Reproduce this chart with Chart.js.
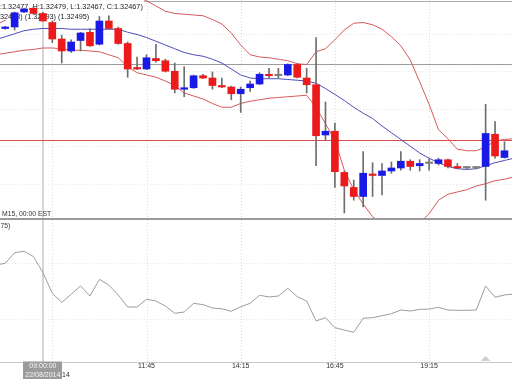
<!DOCTYPE html>
<html><head><meta charset="utf-8">
<script src="https://cdn.jsdelivr.net/npm/chart.js@4.4.1/dist/chart.umd.min.js"></script>
<style>
html,body{margin:0;padding:0;background:#fff;overflow:hidden;}
#wrap{position:relative;width:512px;height:379px;background:#fff;}
#c1{position:absolute;left:0;top:0;}
#c2{position:absolute;left:0;top:218px;}
</style></head><body>
<div id="wrap"><canvas id="c1" width="512" height="218"></canvas><canvas id="c2" width="512" height="161"></canvas></div>
<script>
// ---- data (EURUSD M15, 22/08/2014) ----
const times = ['07:45','08:00','08:15','08:30','08:45','09:00','09:15','09:30','09:45','10:00','10:15','10:30','10:45','11:00','11:15','11:30','11:45','12:00','12:15','12:30','12:45','13:00','13:15','13:30','13:45','14:00','14:15','14:30','14:45','15:00','15:15','15:30','15:45','16:00','16:15','16:30','16:45','17:00','17:15','17:30','17:45','18:00','18:15','18:30','18:45','19:00','19:15','19:30','19:45','20:00','20:15','20:30','20:45','21:00','21:15','21:30'];
const open = [null,
 1.32457,1.32459,1.32479,1.32484,1.32477,1.32465,1.32443,1.32427,1.32441,1.32452,
 1.32436,1.32467,1.32457,1.32437,1.32404,1.32403,1.32417,1.32414,1.32400,1.32376,
 1.32378,1.32394,1.32391,1.32380,1.32379,1.32370,1.32378,1.32383,1.32396,1.32394,
 1.32395,1.32409,1.32391,1.32382,1.32315,1.32320,1.32265,1.32245,1.32233,1.32263,
 1.32261,1.32267,1.32271,1.32280,1.32274,1.32277,1.32277,1.32282,1.32273,1.32271,
 1.32271,1.32273,1.32316,1.32285, null];
const high = [null,
 1.32460,1.32479,1.32484,1.32486,1.32479,1.32467,1.32448,1.32442,1.32452,1.32457,
 1.32473,1.32474,1.32459,1.32439,1.32419,1.32422,1.32436,1.32416,1.32411,1.32406,
 1.32395,1.32396,1.32399,1.32391,1.32380,1.32379,1.32387,1.32398,1.32404,1.32404,
 1.32410,1.32410,1.32404,1.32445,1.32359,1.32331,1.32267,1.32255,1.32293,1.32278,
 1.32277,1.32279,1.32293,1.32282,1.32282,1.32283,1.32284,1.32283,1.32277,1.32273,
 1.32273,1.32356,1.32333,1.32306, null];
const low = [null,
 1.32456,1.32455,1.32478,1.32476,1.32467,1.32438,1.32411,1.32425,1.32427,1.32433,
 1.32435,1.32456,1.32436,1.32392,1.32402,1.32402,1.32412,1.32399,1.32371,1.32366,
 1.32377,1.32390,1.32376,1.32378,1.32362,1.32345,1.32373,1.32382,1.32391,1.32391,
 1.32394,1.32391,1.32371,1.32274,1.32308,1.32245,1.32211,1.32228,1.32219,1.32233,
 1.32235,1.32264,1.32268,1.32268,1.32267,1.32268,1.32275,1.32271,1.32270,1.32270,
 1.32270,1.32228,1.32284,1.32284, null];
const close = [null,
 1.32458,1.32478,1.32483,1.32477,1.32467,1.32443,1.32427,1.32439,1.32451,1.32434,
 1.32467,1.32457,1.32437,1.32403,1.32403,1.32418,1.32414,1.32400,1.32376,1.32377,
 1.32394,1.32391,1.32381,1.32379,1.32370,1.32376,1.32383,1.32396,1.32394,1.32394,
 1.32409,1.32392,1.32382,1.32314,1.32320,1.32266,1.32247,1.32233,1.32264,1.32261,
 1.32267,1.32271,1.32280,1.32273,1.32277,1.32277,1.32282,1.32273,1.32271,1.32271,
 1.32271,1.32317,1.32287,1.32294, null];
const bbUpper = [1.32462,
 1.32468,1.32475,1.32480,1.32482,1.32484,1.32483,1.32484,1.32484,1.32484,1.32486,
 1.32487,1.32490,1.32494,1.32498,1.32499,1.32494,1.32487,1.32480,1.32477,1.32476,
 1.32475,1.32474,1.32469,1.32463,1.32451,1.32435,1.32422,1.32419,1.32418,1.32416,
 1.32414,1.32410,1.32409,1.32426,1.32430,1.32442,1.32455,1.32464,1.32465,1.32462,
 1.32456,1.32446,1.32434,1.32415,1.32386,1.32356,1.32322,1.32310,1.32296,1.32294,
 1.32294,1.32299,1.32307,1.32309,1.32310];
const bbMiddle = [1.32442,
 1.32446,1.32450,1.32454,1.32456,1.32457,1.32457,1.32457,1.32456,1.32456,1.32456,
 1.32456,1.32456,1.32456,1.32452,1.32449,1.32445,1.32440,1.32435,1.32430,1.32425,
 1.32422,1.32420,1.32416,1.32411,1.32403,1.32395,1.32391,1.32390,1.32390,1.32390,
 1.32389,1.32388,1.32387,1.32384,1.32377,1.32369,1.32361,1.32352,1.32344,1.32337,
 1.32327,1.32318,1.32309,1.32300,1.32291,1.32284,1.32278,1.32273,1.32270,1.32269,
 1.32270,1.32274,1.32278,1.32281,1.32284];
const bbLower = [1.32422,
 1.32424,1.32426,1.32428,1.32429,1.32431,1.32431,1.32430,1.32428,1.32428,1.32427,
 1.32426,1.32422,1.32418,1.32406,1.32398,1.32395,1.32392,1.32387,1.32381,1.32371,
 1.32367,1.32363,1.32357,1.32352,1.32352,1.32357,1.32360,1.32362,1.32364,1.32365,
 1.32366,1.32367,1.32368,1.32352,1.32330,1.32308,1.32268,1.32242,1.32223,1.32206,
 1.32197,1.32190,1.32184,1.32186,1.32198,1.32210,1.32228,1.32236,1.32239,1.32242,
 1.32247,1.32250,1.32254,1.32256,1.32259];
const rsi = [68.3,
 69.5,77.0,78.0,74.2,63.0,48.4,42.0,47.7,53.5,46.5,
 58.2,54.2,47.2,38.7,38.7,44.2,43.0,39.4,34.3,35.2,
 41.3,40.4,38.0,37.5,35.7,38.9,41.3,47.0,45.8,46.5,
 51.9,46.0,43.0,28.9,31.2,24.2,22.5,20.9,30.8,31.2,
 32.6,34.0,36.6,35.9,37.1,37.3,38.5,36.6,36.4,36.4,
 36.6,53.5,45.6,47.2,47.9];
const tickIdx = [6,16,26,36,46];
const dateLabel = '22/08/2014';
const cursorIdx = 5;
const cursorLabel = ['09:00:00','22/08/2014'];
const headerLine1 = '(O:1.32477, H:1.32479, L:1.32467, C:1.32467)';
const headerLine2 = '(1.32498) (1.32493) (1.32495)';
const periodLabel = 'M15, 00:00 EST';
const rsiLabel = '75)';
const levels = [1.32493, 1.32410, 1.32308];
const levelColors = ['#a9a9a9', '#9c9c9c', '#dc4a4a'];
const gridPrices = [1.3245, 1.3240, 1.3235, 1.3230, 1.3225];
const rsiLevels = [70, 30];
const priceMin = 1.322043, priceMax = 1.32495;
const xMin = 0.448, xMax = 54.8;

const FONT = '"Liberation Sans", Arial, sans-serif';
Chart.defaults.font.family = FONT;

const idx = times.map((t,i)=>i);
const pts = arr => idx.map(i => ({x:i, y:arr[i]}));
const candleIdx = idx.filter(i => open[i] !== null);
const bodies = candleIdx.map(i => ({x:i, y:[open[i], close[i]]}));
const wicks = candleIdx.map(i => ({x:i, y:[low[i], high[i]]}));
const bodyColors = candleIdx.map(i => close[i] > open[i] ? '#1a1ae6' : (close[i] < open[i] ? '#ec1a1a' : '#808080'));

function hline(ctx, x1, x2, y){ctx.beginPath();ctx.moveTo(x1,y);ctx.lineTo(x2,y);ctx.stroke();}
function vline(ctx, x, y1, y2){ctx.beginPath();ctx.moveTo(x,y1);ctx.lineTo(x,y2);ctx.stroke();}

function drawVerticals(chart){
  const {ctx, chartArea:a, scales:{x}} = chart;
  ctx.save();
  ctx.strokeStyle = '#dcdcdc'; ctx.lineWidth = 1; ctx.setLineDash([1,2]);
  tickIdx.forEach(k => vline(ctx, Math.round(x.getPixelForValue(k))+0.5, a.top, a.bottom));
  ctx.setLineDash([]);
  ctx.strokeStyle = '#d6d6d6'; ctx.lineWidth = 2;
  vline(ctx, Math.round(x.getPixelForValue(cursorIdx)), a.top, a.bottom);
  ctx.restore();
}

const mainDecor = {
  id: 'mainDecor',
  beforeDatasetsDraw(chart){
    const {ctx, chartArea:a, scales:{y}} = chart;
    ctx.save();
    ctx.strokeStyle = '#e3e3e3'; ctx.lineWidth = 1; ctx.setLineDash([1,2]);
    gridPrices.forEach(p => hline(ctx, a.left, a.right, Math.round(y.getPixelForValue(p))+0.5));
    ctx.restore();
    drawVerticals(chart);
    ctx.save();
    ctx.lineWidth = 1;
    levels.forEach((p,i) => { ctx.strokeStyle = levelColors[i]; hline(ctx, a.left, a.right, Math.round(y.getPixelForValue(p))+0.5); });
    ctx.restore();
  },
  beforeDatasetDraw(chart, args){
    if (args.index !== 3) return;
    const ctx = chart.ctx;
    ctx.save();
    ctx.font = '7.3px ' + FONT;
    ctx.textBaseline = 'alphabetic';
    const x1 = -ctx.measureText('(O').width;
    const w1 = ctx.measureText(headerLine1).width;
    const x2 = -ctx.measureText('(1.').width;
    const w2 = ctx.measureText(headerLine2).width;
    ctx.fillStyle = '#fff';
    ctx.fillRect(0, 0, x1 + w1 + 1, 10);
    ctx.fillRect(0, 10, x2 + w2 + 1, 10);
    ctx.fillStyle = '#222';
    ctx.fillText(headerLine1, x1, 8.5);
    ctx.fillText(headerLine2, x2, 18.5);
    ctx.fillStyle = '#333';
    ctx.font = '6.8px ' + FONT;
    ctx.fillText(periodLabel, 2, 215.5);
    ctx.restore();
  }
};

new Chart(document.getElementById('c1'), {
  type: 'bar',
  data: { datasets: [
    {type:'line', data: pts(bbUpper), borderColor:'#d65a5a', borderWidth:1, pointRadius:0, tension:0, order:5},
    {type:'line', data: pts(bbMiddle), borderColor:'#4d4db8', borderWidth:1, pointRadius:0, tension:0, order:5},
    {type:'line', data: pts(bbLower), borderColor:'#d65a5a', borderWidth:1, pointRadius:0, tension:0, order:5},
    {type:'bar', data: wicks, backgroundColor:'#6e6e6e', barThickness:1, grouped:false, borderWidth:0, order:2},
    {type:'bar', data: bodies, backgroundColor: bodyColors, barThickness:7, grouped:false, borderWidth:0, minBarLength:1.5, order:1}
  ]},
  options: {
    responsive:false, animation:false, events:[],
    layout:{padding:0},
    scales:{
      x:{type:'linear', min:xMin, max:xMax, offset:false, display:false},
      y:{min:priceMin, max:priceMax, display:false}
    },
    plugins:{legend:{display:false}, tooltip:{enabled:false}}
  },
  plugins:[mainDecor]
});

const lowerDecor = {
  id: 'lowerDecor',
  beforeDatasetsDraw(chart){
    const {ctx, chartArea:a, scales:{y}} = chart;
    ctx.save();
    ctx.fillStyle = '#9a9a9a';
    ctx.fillRect(0, 0, chart.width, 2);
    ctx.strokeStyle = '#e3e3e3'; ctx.lineWidth = 1; ctx.setLineDash([1,2]);
    rsiLevels.forEach(v => hline(ctx, a.left, a.right, Math.round(y.getPixelForValue(v))+0.5));
    ctx.restore();
    drawVerticals(chart);
    ctx.save();
    ctx.fillStyle = '#333';
    ctx.font = '6.8px ' + FONT;
    ctx.textBaseline = 'alphabetic';
    ctx.fillText(rsiLabel, 0.5, 9.5);
    ctx.restore();
  },
  afterDraw(chart){
    const {ctx, scales:{x}} = chart;
    const cx = x.getPixelForValue(cursorIdx);
    ctx.save();
    ctx.fillStyle = '#9b9b9b';
    ctx.fillRect(Math.round(cx - 19.5), 143.5, 39, 18);
    ctx.fillStyle = '#f6f6f6';
    ctx.font = '7px ' + FONT;
    ctx.textAlign = 'center';
    ctx.textBaseline = 'alphabetic';
    ctx.fillText(cursorLabel[0], cx, 150.3);
    ctx.fillText(cursorLabel[1], cx, 158.7);
    // scroll marker
    const tx = x.getPixelForValue(52);
    ctx.fillStyle = '#cfcfcf';
    ctx.beginPath();
    ctx.moveTo(tx - 5, 143); ctx.lineTo(tx + 5, 143); ctx.lineTo(tx, 138); ctx.closePath(); ctx.fill();
    ctx.restore();
  }
};

new Chart(document.getElementById('c2'), {
  type: 'line',
  data: { datasets: [
    {data: pts(rsi), borderColor:'#9c9c9c', borderWidth:1, pointRadius:0, tension:0}
  ]},
  options: {
    responsive:false, animation:false, events:[],
    layout:{padding:{top:2, left:0, right:0, bottom:0}},
    scales:{
      x:{type:'linear', min:xMin, max:xMax, offset:false,
         grid:{display:false, drawTicks:false},
         border:{display:true, color:'#c8c8c8', width:1},
         afterBuildTicks: s => { s.ticks = tickIdx.map(v => ({value:v})); },
         afterFit: s => { s.height = 17; },
         ticks:{autoSkip:false, maxRotation:0, minRotation:0, padding:0, color:'#333', font:{size:7},
                callback: v => v === 6 ? ['', dateLabel] : [times[v]]}
      },
      y:{min:0, max:100, display:false}
    },
    plugins:{legend:{display:false}, tooltip:{enabled:false}}
  },
  plugins:[lowerDecor]
});
</script>
</body></html>
